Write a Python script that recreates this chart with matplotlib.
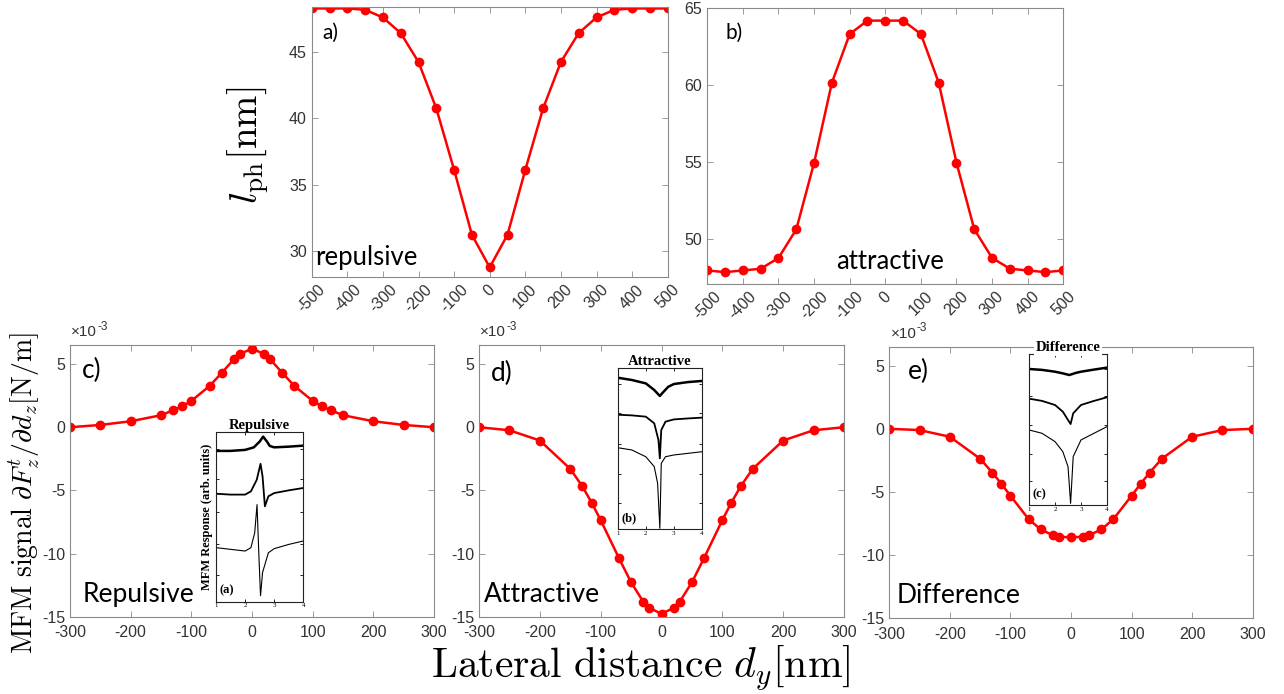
import matplotlib
matplotlib.use('Agg')
import matplotlib.pyplot as plt
import numpy as np

plt.rcParams['font.family'] = ['Liberation Sans', 'DejaVu Sans']
plt.rcParams['axes.unicode_minus'] = False

# top row: phase length vs lateral position
x_top = [-500, -450, -400, -350, -300, -250, -200, -150, -100, -50, 0,
         50, 100, 150, 200, 250, 300, 350, 400, 450, 500]
l_rep = [48.29, 48.29, 48.29, 48.19, 47.61, 46.43, 44.25, 40.75, 36.11, 31.21, 28.75,
         31.21, 36.11, 40.75, 44.25, 46.43, 47.61, 48.19, 48.29, 48.29, 48.29]
l_att = [47.98, 47.87, 47.98, 48.09, 48.79, 50.65, 54.97, 60.17, 63.33, 64.2, 64.2,
         64.2, 63.33, 60.17, 54.97, 50.65, 48.79, 48.09, 47.98, 47.87, 47.98]

# bottom row: MFM signal (x 1e-3 N/m)
x_bot = [-300, -250, -200, -150, -130, -115, -100, -70, -50, -30, -20, 0,
         20, 30, 50, 70, 100, 115, 130, 150, 200, 250, 300]
sig_rep = [0, 0.18, 0.47, 0.95, 1.34, 1.66, 2.08, 3.26, 4.29, 5.37, 5.79, 6.21,
           5.79, 5.37, 4.29, 3.26, 2.08, 1.66, 1.34, 0.95, 0.47, 0.18, 0]
sig_att = [0, -0.24, -1.05, -3.29, -4.68, -5.95, -7.34, -10.34, -12.26, -13.79, -14.29, -14.74,
           -14.29, -13.79, -12.26, -10.34, -7.34, -5.95, -4.68, -3.29, -1.05, -0.24, 0]
sig_dif = [0, -0.1, -0.63, -2.37, -3.46, -4.35, -5.3, -7.15, -7.97, -8.42, -8.55, -8.58,
           -8.55, -8.42, -7.97, -7.15, -5.3, -4.35, -3.46, -2.37, -0.63, -0.1, 0]

# inset traces (field, arb. units)
ins_a_x1 = [1.0, 1.5, 2.0, 2.3, 2.5, 2.62, 2.75, 2.85, 3.0, 3.5, 4.0]
ins_a_y1 = [8.87, 8.87, 8.93, 9.08, 9.42, 9.71, 9.42, 9.16, 9.08, 9.12, 9.18]
ins_a_x2 = [1.0, 1.5, 2.0, 2.2, 2.4, 2.53, 2.6, 2.68, 2.8, 3.0, 3.5, 4.0]
ins_a_y2 = [6.35, 6.30, 6.30, 6.49, 7.17, 8.11, 7.37, 5.61, 6.20, 6.39, 6.55, 6.69]
ins_a_x3 = [1.0, 1.5, 2.0, 2.2, 2.33, 2.41, 2.47, 2.53, 2.6, 2.8, 3.0, 3.5, 4.0]
ins_a_y3 = [3.18, 3.08, 2.98, 3.18, 4.05, 5.71, 2.88, 0.35, 1.72, 2.88, 3.12, 3.37, 3.57]

ins_b_x1 = [1.0, 1.5, 2.0, 2.3, 2.5, 2.6, 2.8, 3.0, 3.5, 4.0]
ins_b_y1 = [9.38, 9.24, 9.03, 8.62, 8.25, 8.45, 8.82, 8.99, 9.11, 9.18]
ins_b_x2 = [1.0, 1.5, 2.0, 2.3, 2.45, 2.5, 2.55, 2.7, 3.0, 3.5, 4.0]
ins_b_y2 = [7.09, 7.05, 6.97, 6.56, 5.53, 4.39, 6.14, 6.66, 6.80, 6.86, 6.91]
ins_b_x3 = [1.0, 1.5, 2.0, 2.3, 2.42, 2.5, 2.55, 2.7, 3.0, 3.5, 4.0]
ins_b_y3 = [5.05, 4.91, 4.49, 3.88, 2.85, 0.06, 4.08, 4.49, 4.60, 4.70, 4.80]

ins_c_x1 = [1.0, 1.5, 2.0, 2.3, 2.55, 2.8, 3.0, 3.5, 4.0]
ins_c_y1 = [9.01, 8.95, 8.83, 8.72, 8.61, 8.75, 8.83, 8.97, 9.10]
ins_c_x2 = [1.0, 1.5, 2.0, 2.3, 2.5, 2.6, 2.7, 3.0, 3.5, 4.0]
ins_c_y2 = [7.05, 6.90, 6.63, 6.19, 5.64, 5.37, 6.08, 6.63, 6.90, 7.14]
ins_c_x3 = [1.0, 1.5, 2.0, 2.3, 2.5, 2.6, 2.7, 3.0, 3.5, 4.0]
ins_c_y3 = [4.98, 4.76, 4.21, 3.55, 2.56, 0.13, 3.22, 4.32, 4.76, 5.20]

W, H = 1284, 694
fig = plt.figure(figsize=(W / 100, H / 100), dpi=100)


def px_axes(l, t, r, b):
    return fig.add_axes([l / W, 1 - b / H, (r - l) / W, (b - t) / H])


def style(ax):
    for s in ax.spines.values():
        s.set_color('#8a8a8a')
        s.set_linewidth(0.8)
    ax.tick_params(direction='in', length=4, width=0.6, color='#8a8a8a',
                   labelcolor='#333333', labelsize=11.5, top=True, right=True)


red = dict(color='#ff0000', lw=1.8, marker='o', ms=6, mfc='#ff0000', mec='#ff0000')
calib = ['Lato', 'DejaVu Sans']

# --- panel a
axa = px_axes(311.7, 7, 667.7, 277.3)
axa.plot(x_top, l_rep, **red)
axa.set_xlim(-500, 500)
axa.set_ylim(28.0, 48.4)
axa.set_xticks(np.arange(-500, 501, 100))
axa.set_yticks([30, 35, 40, 45])
style(axa)
plt.setp(axa.get_xticklabels(), rotation=45, ha='center')
axa.text(0.029, 0.905, 'a)', transform=axa.transAxes, fontsize=15, family=calib, va='center')
axa.text(0.009, 0.072, 'repulsive', transform=axa.transAxes, fontsize=18.5, family=calib, va='center')
fig.text(248 / W, 1 - 145 / H, r'$l_{\rm ph}[\rm nm]$', fontsize=28, math_fontfamily='cm',
         rotation=90, ha='center', va='center')

# --- panel b
axb = px_axes(707.3, 8.3, 1063.3, 284)
axb.plot(x_top, l_att, **red)
axb.set_xlim(-500, 500)
axb.set_ylim(47.1, 65)
axb.set_xticks(np.arange(-500, 501, 100))
axb.set_yticks([50, 55, 60, 65])
style(axb)
plt.setp(axb.get_xticklabels(), rotation=45, ha='center')
axb.text(0.05, 0.91, 'b)', transform=axb.transAxes, fontsize=15, family=calib, va='center')
axb.text(0.513, 0.083, 'attractive', transform=axb.transAxes, fontsize=18.5, family=calib,
         va='center', ha='center')

# --- bottom panels
bot = [
    ((70, 345, 434, 617), sig_rep, 'c)', 0.033, 0.908, 'Repulsive', 0.036),
    ((479, 345, 844, 617), sig_att, 'd)', 0.033, 0.897, 'Attractive', 0.014),
    ((889.3, 346.7, 1252.7, 618.3), sig_dif, 'e)', 0.051, 0.907, 'Difference', 0.021),
]
for box, sig, tag, tx, ty, name, nx in bot:
    ax = px_axes(*box)
    ax.plot(x_bot, sig, **red)
    ax.set_xlim(-300, 300)
    ax.set_ylim(-15, 6.5)
    ax.set_xticks(np.arange(-300, 301, 100))
    ax.set_yticks([-15, -10, -5, 0, 5])
    style(ax)
    ax.tick_params(axis='x', pad=6)
    ax.text(tx, ty, tag, transform=ax.transAxes, fontsize=19, family=calib, va='center')
    ax.text(nx, 0.083, name, transform=ax.transAxes, fontsize=19, family=calib, va='center')
    # MATLAB-style exponent label
    ax.annotate('×10', xy=(0, 1), xycoords='axes fraction', xytext=(1, 4),
                textcoords='offset points', fontsize=11, color='#333333',
                ha='left', va='bottom')
    ax.annotate('-3', xy=(0, 1), xycoords='axes fraction', xytext=(19.5, 9),
                textcoords='offset points', fontsize=8.5, color='#333333',
                ha='left', va='bottom')

fig.text(25 / W, 1 - 493 / H,
         r'$\mathrm{MFM\ signal}\ \partial F_z^t/\partial d_z[\mathrm{N/m}]$',
         fontsize=20, math_fontfamily='cm', rotation=90, ha='center', va='center')
fig.text(0.499, 0.037, r'$\mathrm{Lateral\ distance}\ d_y[\mathrm{nm}]$', fontsize=30,
         math_fontfamily='cm', ha='center', va='center')

# --- insets
times = ['Liberation Serif', 'DejaVu Serif']
insets = [
    ((216, 431.7, 303.3, 601.7), 'Repulsive', '(a)',
     (ins_a_x1, ins_a_y1), (ins_a_x2, ins_a_y2), (ins_a_x3, ins_a_y3)),
    ((617.7, 367.7, 702, 529.3), 'Attractive', '(b)',
     (ins_b_x1, ins_b_y1), (ins_b_x2, ins_b_y2), (ins_b_x3, ins_b_y3)),
    ((1029, 354, 1107, 505.3), 'Difference', '(c)',
     (ins_c_x1, ins_c_y1), (ins_c_x2, ins_c_y2), (ins_c_x3, ins_c_y3)),
]
for i, (box, title, tag, t1, t2, t3) in enumerate(insets):
    ia = px_axes(*box)
    ia.plot(*t1, color='black', lw=1.8)
    ia.plot(*t2, color='black', lw=1.3)
    ia.plot(*t3, color='black', lw=0.8)
    ia.set_xlim(1, 4)
    ia.set_ylim(0, 10)
    ia.set_xticks([1, 2, 3, 4])
    ia.set_yticks([1.6, 3.4, 5.3, 7.2, 9.0])
    ia.set_yticklabels([])
    for s in ia.spines.values():
        s.set_color('#222222')
        s.set_linewidth(0.8)
    ia.tick_params(direction='in', length=2.5, width=0.6, labelsize=5, pad=1,
                   top=True, right=True)
    for lab in ia.get_xticklabels():
        lab.set_family(times)
    bb = dict(facecolor='white', edgecolor='none', pad=1) if i == 2 else None
    ia.set_title(title, fontsize=10.5, family=times, fontweight='bold', pad=2, bbox=bb)
    ia.text(0.04, 0.03, tag, transform=ia.transAxes, fontsize=9, family=times,
            fontweight='bold', va='bottom')
    if i == 0:
        ia.set_ylabel('MFM Response (arb. units)', fontsize=9, family=times,
                      fontweight='bold', labelpad=1)

fig.savefig('out.png', dpi=100)
